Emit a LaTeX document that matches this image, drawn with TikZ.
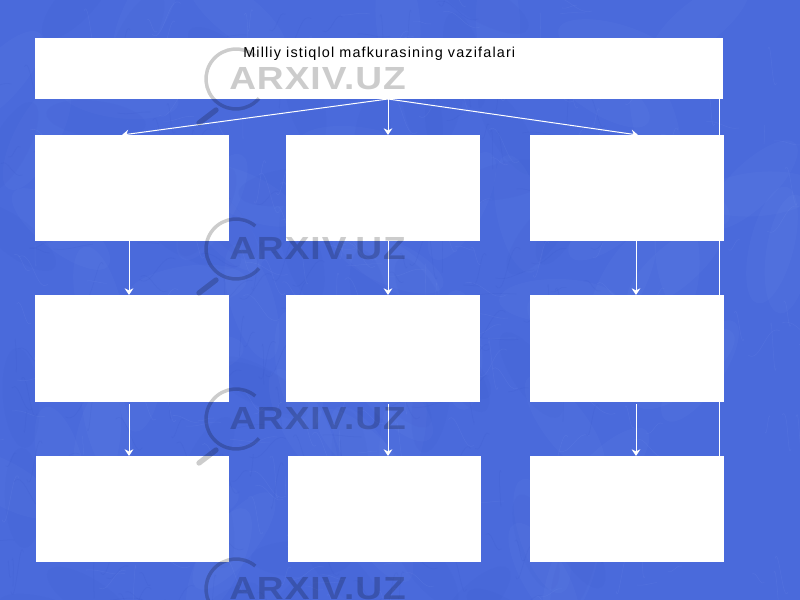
\documentclass[tikz,border=0pt]{standalone}
\usepackage{fontspec}
\setmainfont{Liberation Sans}
\usetikzlibrary{arrows.meta}
\definecolor{fundo}{HTML}{4A6ADB}
\definecolor{claro}{HTML}{7F9BF0}
\definecolor{escuro}{HTML}{3350C4}
\tikzset{
  caixa/.style={fill=white, inner sep=0pt, outer sep=0pt, minimum width=145.5pt, minimum height=79.5pt},
  seta/.style={white, line width=0.75pt, -{Stealth[length=5pt, width=6.5pt]}},
  pena/.style={line width=0.4pt, opacity=0.14, line cap=round},
  mancha/.style={opacity=0.07},
  selo/.style={black, opacity=0.2}
}
\begin{document}
\begin{tikzpicture}[x=0.75pt, y=-0.75pt]
  \useasboundingbox (0,0) rectangle (800,600);
  \fill[fundo] (0,0) rectangle (800,600);
  % penas do fundo
  \begin{scope}
    \clip (0,0) rectangle (800,600);
    \pgfmathsetseed{41}
    \foreach \i in {1,...,60}{
      \pgfmathsetmacro{\px}{random(0,800)}
      \pgfmathsetmacro{\py}{random(0,600)}
      \pgfmathsetmacro{\ang}{random(0,180)}
      \fill[mancha, claro, rotate around={\ang:(\px,\py)}] (\px,\py) ellipse[x radius=60, y radius=22];
      \fill[mancha, escuro, rotate around={\ang:(\py,\px)}] (\py,\px) ellipse[x radius=50, y radius=18];
    }
    \foreach \i in {1,...,260}{
      \pgfmathsetmacro{\px}{random(0,800)}
      \pgfmathsetmacro{\py}{random(0,600)}
      \pgfmathsetmacro{\ang}{random(0,360)}
      \pgfmathsetmacro{\tam}{random(15,45)}
      \pgfmathsetmacro{\dob}{random(-15,15)}
      \draw[pena, claro] (\px,\py) to[out=\ang, in=\ang+180+\dob] ++(\ang:\tam);
      \draw[pena, escuro] (\py,\px) to[out=\ang+90, in=\ang+270-\dob] ++(\ang+90:\tam);
    }
  \end{scope}

  \node[caixa, minimum width=516pt, minimum height=45.75pt] (top) at (379,68.5) {};
  \node[caixa] (a1) at (132,188) {};
  \node[caixa] (b1) at (383,188) {};
  \node[caixa] (c1) at (627,188) {};
  \node[caixa, minimum height=80.25pt] (a2) at (132,348.5) {};
  \node[caixa, minimum height=80.25pt] (b2) at (383,348.5) {};
  \node[caixa, minimum height=80.25pt] (c2) at (627,348.5) {};
  \node[caixa, minimum width=144.75pt] (a3) at (132.5,509) {};
  \node[caixa, minimum width=144.75pt] (b3) at (384.5,509) {};
  \node[caixa] (c3) at (627,509) {};

  \node[inner sep=0pt, font=\fontsize{10.8pt}{12pt}\selectfont\addfontfeature{LetterSpace=8}, anchor=west] (titulo) at (243,54) {Milliy istiqlol mafkurasining vazifalari};

  \coordinate (hub) at ([xshift=6.75pt]top.south);
  \draw[seta] (hub) -- ([xshift=-7.5pt]a1.north);
  \draw[seta] (hub) -- ([xshift=3.75pt]b1.north);
  \draw[seta] (hub) -- ([xshift=8.25pt]c1.north);
  \draw[seta] ([xshift=-2.25pt]a1.south) -- ([xshift=-2.25pt]a2.north);
  \draw[seta] ([xshift=3.75pt]b1.south) -- ([xshift=3.75pt]b2.north);
  \draw[seta] ([xshift=6.75pt]c1.south) -- ([xshift=6.75pt]c2.north);
  \draw[seta, shorten <=1.5pt] ([xshift=-2.25pt]a2.south) -- ([xshift=-2.625pt]a3.north);
  \draw[seta, shorten <=1.5pt] ([xshift=3.75pt]b2.south) -- ([xshift=2.625pt]b3.north);
  \draw[seta, shorten <=1.5pt] ([xshift=6.75pt]c2.south) -- ([xshift=6.75pt]c3.north);
  % ligacao da direita, sem ponta
  \draw[white, line width=0.75pt] ([xshift=69pt]c1.north |- top.south) -- ([xshift=69pt]c3.north);

  % selo repetido
  \foreach \y [count=\n] in {79,249,419,589}{
    \node[selo, inner sep=0pt, anchor=west, font=\fontsize{24pt}{26pt}\selectfont\bfseries\addfontfeature{FakeStretch=1.16,LetterSpace=3}] (selo\n) at (229,\y) {ARXIV.UZ};
    \draw[selo, line width=2.6pt] (236,\y) ++(-50:30) arc[start angle=-50, end angle=-320, radius=30];
    \draw[selo, line width=4pt, line cap=round] (216,\y+31) -- (199,\y+44);
  }
\end{tikzpicture}
\end{document}
